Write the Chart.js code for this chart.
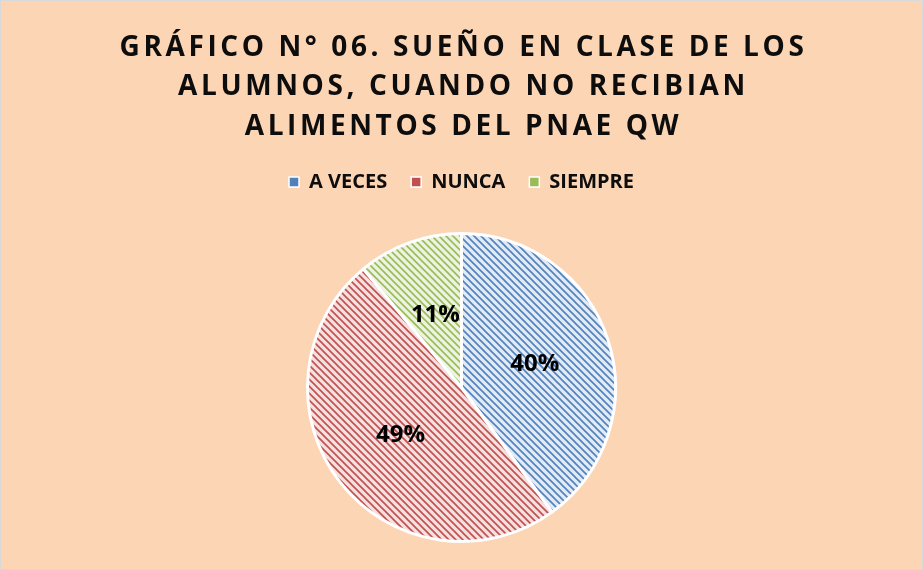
<!DOCTYPE html>
<html>
<head>
<meta charset="utf-8">
<script src="https://cdn.jsdelivr.net/npm/chart.js@4"></script>
<style>
    html, body { margin: 0; padding: 0; background: #fff; }
    #wrap {
        width: 923px; height: 570px; box-sizing: border-box;
        border: 1px solid #d9d9d9; background: #fcd5b5;
    }
</style>
</head>
<body>
<div id="wrap"><canvas id="pieChart"></canvas></div>
<script>
// Chart data
const titleLines = [
    "GRÁFICO N° 06. SUEÑO EN CLASE DE LOS",
    "ALUMNOS, CUANDO NO RECIBIAN",
    "ALIMENTOS DEL PNAE QW"
];
const categories = ["A VECES", "NUNCA", "SIEMPRE"];
const percentages = [40, 49, 11];
const seriesColors = ["#4f81bd", "#c0504d", "#9bbb59"];
const stripeBackgrounds = ["#e2eaf5", "#f5dfdf", "#ecf3e0"];

// Diagonal hatch like the Excel pattern fill
function makePattern(fg, bg) {
    const n = 7;
    const c = document.createElement("canvas");
    c.width = n; c.height = n;
    const p = c.getContext("2d");
    p.fillStyle = bg;
    p.fillRect(0, 0, n, n);
    p.strokeStyle = fg;
    p.lineWidth = 1.6;
    p.beginPath();
    [-n, 0, n].forEach(k => {
        p.moveTo(k - 1, -1);
        p.lineTo(k + n + 1, n + 1);
    });
    p.stroke();
    return p.createPattern(c, "repeat");
}
const patterns = seriesColors.map((c, i) => makePattern(c, stripeBackgrounds[i]));

// Spaced title drawn by hand (Chart.js title has no letter spacing)
const spacedTitle = {
    id: "spacedTitle",
    afterDraw(chart) {
        const ctx = chart.ctx;
        ctx.save();
        ctx.font = "bold 28px 'Open Sans'";
        ctx.letterSpacing = "3.6px";
        ctx.fillStyle = "#0d0d0d";
        ctx.textAlign = "center";
        ctx.textBaseline = "middle";
        titleLines.forEach((t, i) => {
            ctx.fillText(t, chart.width / 2 + 2, 47 + i * 39.5);
        });
        ctx.restore();
    }
};

// Extra room under the legend
const legendGap = {
    id: "legendGap",
    beforeInit(chart) {
        const fit = chart.legend.fit;
        chart.legend.fit = function () {
            fit.call(this);
            this.height += 30;
        };
    }
};

// Percent labels inside slices
const sliceLabels = {
    id: "sliceLabels",
    afterDatasetsDraw(chart) {
        const ctx = chart.ctx;
        const meta = chart.getDatasetMeta(0);
        ctx.save();
        ctx.font = "bold 24px 'Open Sans'";
        ctx.fillStyle = "#000";
        ctx.textAlign = "center";
        ctx.textBaseline = "middle";
        meta.data.forEach((arc, i) => {
            const pos = arc.tooltipPosition();
            ctx.fillText(percentages[i] + "%", pos.x, pos.y);
        });
        ctx.restore();
    }
};

const ctx = document.getElementById("pieChart").getContext("2d");
new Chart(ctx, {
    type: "pie",
    data: {
        labels: categories,
        datasets: [{
            data: percentages,
            backgroundColor: patterns,
            borderColor: "#ffffff",
            borderWidth: 3
        }]
    },
    options: {
        responsive: true,
        maintainAspectRatio: false,
        animation: false,
        layout: { padding: { top: 147, bottom: 26 } },
        plugins: {
            tooltip: { enabled: false },
            legend: {
                position: "top",
                labels: {
                    boxWidth: 10,
                    boxHeight: 10,
                    padding: 24,
                    color: "#0d0d0d",
                    font: { family: "'Open Sans'", size: 20, weight: "bold" },
                    generateLabels(chart) {
                        const items = Chart.overrides.pie.plugins.legend.labels.generateLabels(chart);
                        items.forEach((it, i) => {
                            it.fillStyle = seriesColors[i];
                            it.lineWidth = 1.5;
                        });
                        return items;
                    }
                }
            }
        }
    },
    plugins: [spacedTitle, legendGap, sliceLabels]
});
</script>
</body>
</html>
